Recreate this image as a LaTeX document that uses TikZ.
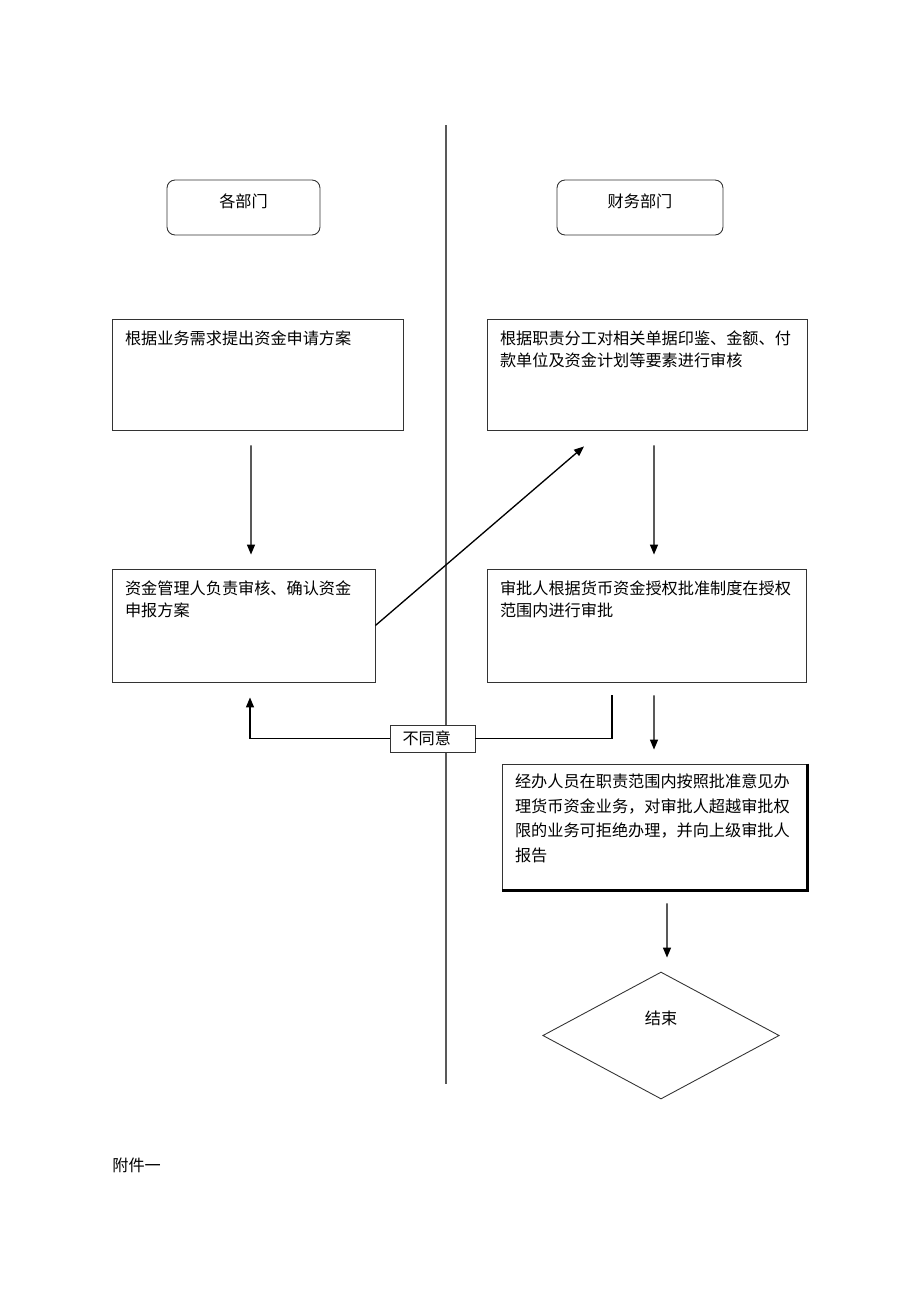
\documentclass[tikz,border=0pt]{standalone}
\usepackage{fontspec}
\usepackage{tikz}
\usetikzlibrary{arrows.meta,shapes.geometric}
\setmainfont{Noto Sans CJK SC}

\newcommand{\flowtext}[3]{\parbox[c][#1][t]{#2}{#3}}

\begin{document}
\begin{tikzpicture}[x=0.02cm,y=-0.02cm,
    every node/.style={font=\fontsize{9.2pt}{12.3pt}\selectfont},
    dept/.style={draw=black!80, line width=0.5pt, rounded corners=0.16cm,
        minimum height=1.1cm, text height=6pt, text depth=6pt},
    task/.style={draw=black!80, line width=0.5pt, inner xsep=0.26cm, inner ysep=0.24cm},
    arr/.style={-{Triangle[length=0.2cm,width=0.16cm]}, line width=0.75pt},
    link/.style={line width=0.75pt},
    divider/.style={draw=black!65, line width=0.7pt}]
    \useasboundingbox (0,0) rectangle (920,1302);

    % lane divider
    \draw[divider] (446,125) -- (446,1084);

    % departments
    \node[dept, minimum width=3.06cm] (units) at (243.5,207.5) {各部门};
    \node[dept, minimum width=3.32cm] (finance) at (640,207.5) {财务部门};

    % steps
    \node[task] (req) at (257.5,374.5)
        {\flowtext{1.74cm}{5.30cm}{根据业务需求提出资金申请方案}};
    \node[task] (verify) at (647,374.5)
        {\flowtext{1.74cm}{5.88cm}{根据职责分工对相关单据印鉴、金额、付\\款单位及资金计划等要素进行审核}};
    \node[task] (check) at (243.5,625.5)
        {\flowtext{1.78cm}{4.74cm}{资金管理人负责审核、确认资金\\申报方案}};
    \node[task] (approve) at (646.5,625.5)
        {\flowtext{1.78cm}{5.86cm}{审批人根据货币资金授权批准制度在授权\\范围内进行审批}};
    \node[task, inner ysep=0.2cm, font=\fontsize{9.2pt}{14pt}\selectfont] (handle) at (654.5,827)
        {\flowtext{2.12cm}{5.58cm}{经办人员在职责范围内按照批准意见办\\理货币资金业务，对审批人超越审批权\\限的业务可拒绝办理，并向上级审批人\\报告}};
    \draw[line width=1.4pt] (handle.north east) -- (handle.south east) -- (handle.south west);

    \node[draw=black!80, line width=0.5pt, diamond, minimum width=4.73cm, minimum height=2.54cm,
        text height=6pt, text depth=18pt] (end) at (661,1035.5) {结束};

    \node[draw=black!80, line width=0.5pt, fill=white, text width=1.2cm, inner xsep=0.25cm,
        inner ysep=0pt, minimum height=0.54cm] (disagree) at (432.5,738.5) {不同意};

    % flow
    \draw[arr] ([shift={(-6.5,15)}]req.south) -- ([shift={(7.5,-14)}]check.north);
    \draw[arr] (check.east) -- ([shift={(-63,16)}]verify.south);
    \draw[arr] ([shift={(7,15)}]verify.south) -- ([shift={(7.5,-14)}]approve.north);
    \draw[arr] ([shift={(7.5,13)}]approve.south) -- ([shift={(-0.5,-14)}]handle.north);
    \draw[arr] ([shift={(12.5,13)}]handle.south) -- ([shift={(6,-14)}]end.north);

    % rejected
    \draw[link] ([shift={(-34.5,13)}]approve.south) |- (disagree.east);
    \draw[arr] (disagree.west) -| ([shift={(6.5,15)}]check.south);

    \node[anchor=west, inner sep=0pt] (annex) at (112,1165) {附件一};
\end{tikzpicture}
\end{document}
